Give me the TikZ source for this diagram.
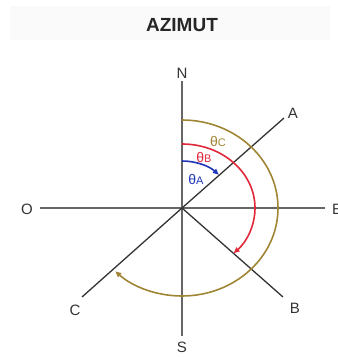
\documentclass[tikz,border=0pt]{standalone}
\usepackage{fontspec}
\setmainfont{Liberation Sans}
\usetikzlibrary{arrows.meta}
\definecolor{axisgray}{HTML}{666666}
\definecolor{linegray}{HTML}{333333}
\definecolor{brownarc}{HTML}{A08535}
\definecolor{redarc}{HTML}{E0283A}
\definecolor{bluearc}{HTML}{2035B8}
\definecolor{txtgray}{HTML}{333333}
\tikzset{
  axis/.style={draw=axisgray, line width=1.1pt},
  dirline/.style={draw=linegray, line width=1.3pt},
  lbl/.style={text=txtgray, font=\fontsize{15}{17}\selectfont, inner sep=0pt},
  anglbl/.style={font=\fontsize{14}{16}\selectfont, inner sep=0pt},
  arcline/.style={line width=1.6pt},
}
\begin{document}
\begin{tikzpicture}[x=1pt,y=1pt]
\useasboundingbox (0,0) rectangle (338,357);
\fill[black!2] (10,317) rectangle (330,351);
\node[font=\bfseries\fontsize{19}{22}\selectfont, text=black!85, inner sep=0pt] (title) at (182,332) {AZIMUT};
% coordinates
\coordinate (O) at (182,149);
\coordinate (Ntop) at (182,276);
\coordinate (Sbot) at (182,21);
\coordinate (Wend) at (40,149);
\coordinate (Eend) at (325,149);
\coordinate (Aend) at (284,239);
\coordinate (Bend) at (283,60);
\coordinate (Cend) at (82,60);
% axes
\draw[axis] (Ntop) -- (Sbot);
\draw[axis] (Wend) -- (Eend);
% direction lines
\draw[dirline] (O) -- (Aend);
\draw[dirline] (O) -- (Bend);
\draw[dirline] (O) -- (Cend);
% arcs
\draw[arcline, draw=brownarc, -{Triangle[length=6pt,width=5pt,fill=brownarc]}] (182,237) arc[start angle=90, end angle=-134, x radius=96, y radius=88];
\draw[arcline, draw=redarc, -{Triangle[length=6pt,width=5pt,fill=redarc]}] (182,213) arc[start angle=90, end angle=-45, x radius=73, y radius=64];
\draw[arcline, draw=bluearc, -{Triangle[length=6pt,width=5pt,fill=bluearc]}] (182,196) arc[start angle=90, end angle=45, x radius=52, y radius=47];
% labels
\node[lbl] (N) at (182,284) {N};
\node[lbl] (S) at (182,10) {S};
\node[lbl] (W) at (27,148) {O};
\node[lbl, anchor=west] (E) at (332,148) {E};
\node[lbl] (A) at (293,244) {A};
\node[lbl] (B) at (295,49) {B};
\node[lbl] (C) at (75,47) {C};
\node[anglbl, text=brownarc] (tC) at (218,215) {θ{\fontsize{11}{12}\selectfont C}};
\node[anglbl, text=redarc] (tB) at (204,200) {θ{\fontsize{11}{12}\selectfont B}};
\node[anglbl, text=bluearc] (tA) at (196,178) {θ{\fontsize{11}{12}\selectfont A}};
\end{tikzpicture}
\end{document}
